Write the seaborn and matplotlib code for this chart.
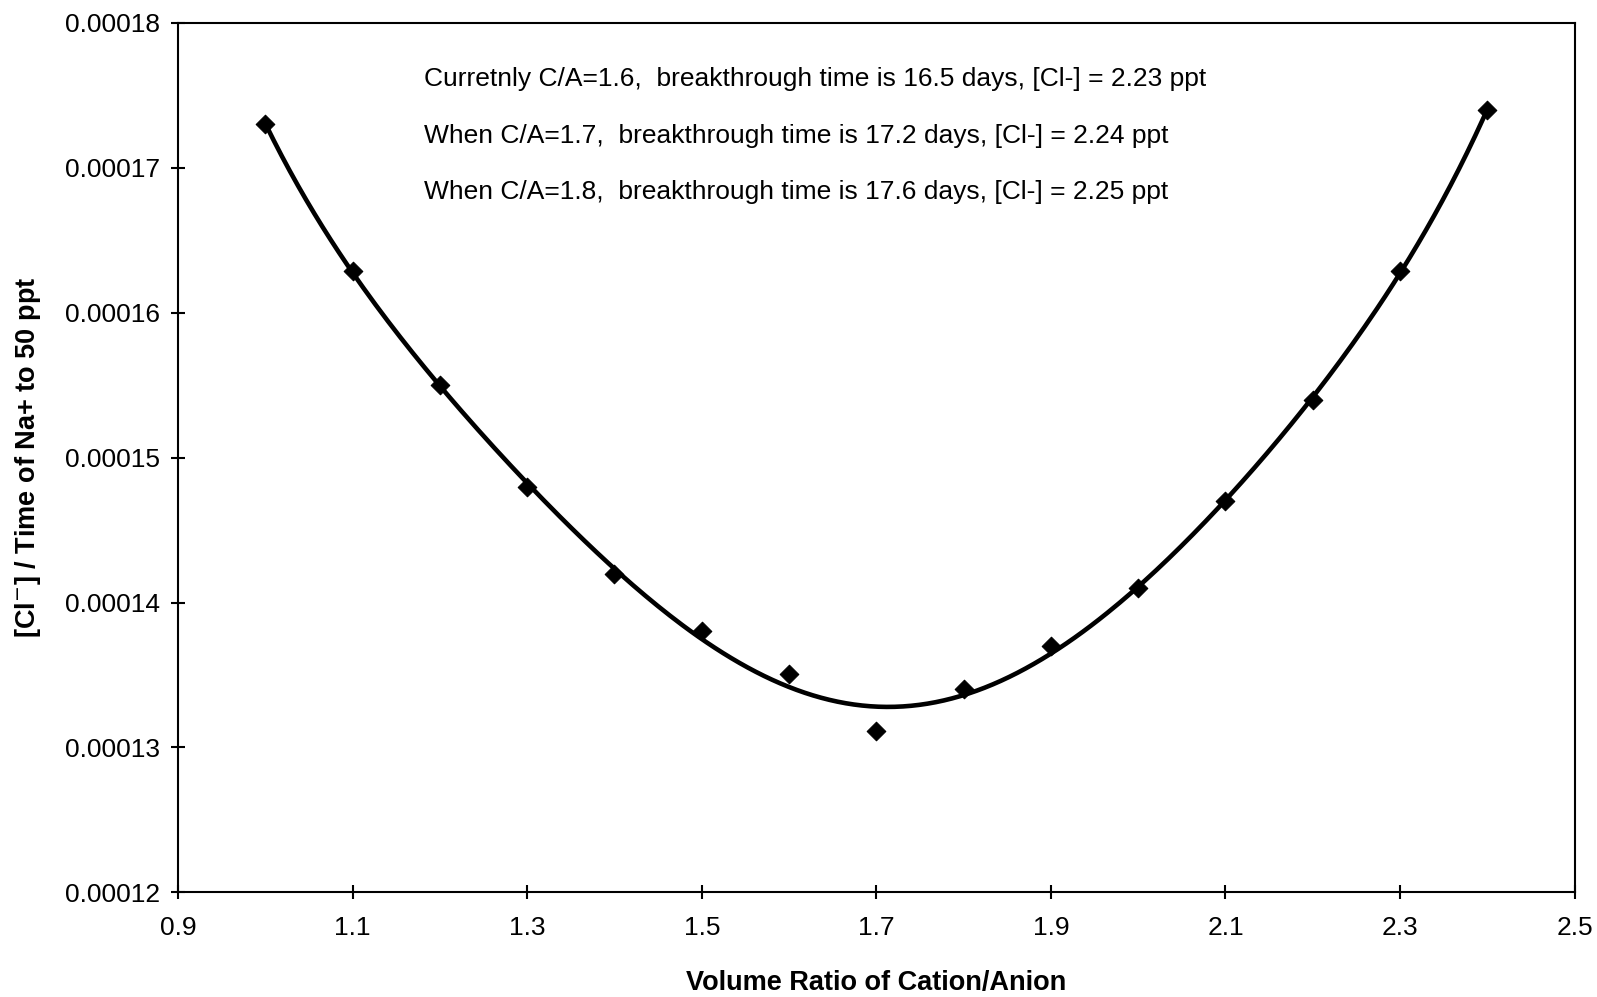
import numpy as np
import pandas as pd
import seaborn as sns
import matplotlib
matplotlib.use("Agg")
import matplotlib.pyplot as plt

ratio = [1.0, 1.1, 1.2, 1.3, 1.4, 1.5, 1.6, 1.7, 1.8, 1.9, 2.0, 2.1, 2.2, 2.3, 2.4]
value = [0.0001730, 0.0001629, 0.0001550, 0.0001480, 0.0001420, 0.0001380, 0.0001351,
         0.0001311, 0.0001340, 0.0001370, 0.0001410, 0.0001470, 0.0001540, 0.0001629, 0.0001740]
x_ticks = [0.9, 1.1, 1.3, 1.5, 1.7, 1.9, 2.1, 2.3, 2.5]
y_ticks = [0.00012, 0.00013, 0.00014, 0.00015, 0.00016, 0.00017, 0.00018]
notes = ["Curretnly C/A=1.6,  breakthrough time is 16.5 days, [Cl-] = 2.23 ppt",
         "When C/A=1.7,  breakthrough time is 17.2 days, [Cl-] = 2.24 ppt",
         "When C/A=1.8,  breakthrough time is 17.6 days, [Cl-] = 2.25 ppt"]

sns.set_theme(style="white")
plt.rcParams['font.family'] = ['Liberation Sans', 'DejaVu Sans']
plt.rcParams['text.color'] = 'black'
plt.rcParams['axes.labelcolor'] = 'black'

df = pd.DataFrame({"ratio": ratio, "value": value})
coef = np.polyfit(df["ratio"], df["value"], 6)
xs = np.linspace(min(ratio), max(ratio), 300)
trend = pd.DataFrame({"ratio": xs, "value": np.polyval(coef, xs)})

fig = plt.figure(figsize=(15.97, 9.97), dpi=100)
ax = fig.add_axes([0.1115, 0.105, 0.8745, 0.872])

sns.lineplot(data=trend, x="ratio", y="value", ax=ax, color="black", linewidth=3.3)
sns.scatterplot(data=df, x="ratio", y="value", ax=ax, marker="D", s=90,
                color="black", edgecolor="black", zorder=5)

ax.set_xlim(0.9, 2.5)
ax.set_ylim(0.00012, 0.00018)
ax.set_xticks(x_ticks)
ax.set_xticklabels([f"{t:.1f}" for t in x_ticks])
ax.set_yticks(y_ticks)
ax.set_yticklabels([f"{t:.5f}" for t in y_ticks])
ax.tick_params(axis="both", direction="inout", length=10, width=1.5, labelsize=19,
               colors="black", pad=8)
ax.tick_params(axis="x", bottom=True, pad=12)
ax.tick_params(axis="y", left=True)
for sp in ax.spines.values():
    sp.set_color("black")
    sp.set_linewidth(1.5)

ax.set_xlabel("Volume Ratio of Cation/Anion", fontsize=19.5, fontweight="bold",
              labelpad=22, color="black")
ax.set_ylabel("[Cl$^{-}$] / Time of Na+ to 50 ppt", fontsize=19.5, fontweight="bold",
              labelpad=16, color="black")

for t, yy in zip(notes, [0.9355, 0.870, 0.805]):
    ax.text(0.176, yy, t, transform=ax.transAxes, fontsize=19, ha="left",
            va="center", color="black")

fig.savefig("out.png", dpi=100)
